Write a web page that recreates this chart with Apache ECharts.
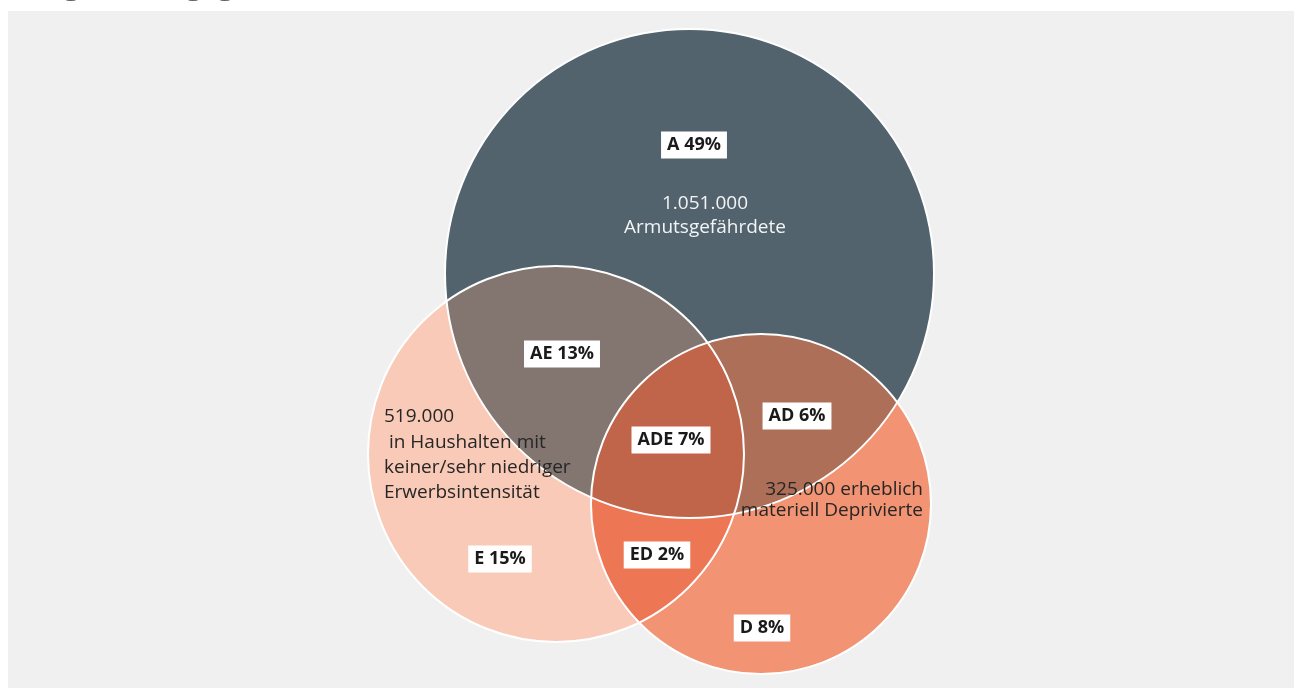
<!DOCTYPE html>
<html>
<head>
<meta charset="utf-8">
<title>Ausgrenzungsgefährdete</title>
<script src="https://cdn.jsdelivr.net/npm/echarts@6/dist/echarts.min.js"></script>
<style>
  html, body { margin: 0; padding: 0; background: #ffffff; }
  #chart { width: 1295px; height: 688px; }
</style>
</head>
<body>
<div id="chart"></div>
<script>
// ---- data ----------------------------------------------------------
// The three groups: A = at risk of poverty, E = (very) low work intensity, D = severe material deprivation
const setKeys = ['A', 'E', 'D'];
const setCounts = ['1.051.000', '519.000', '325.000'];
const setCaptions = [
  ['1.051.000', 'Armutsgefährdete'],
  ['519.000', ' in Haushalten mit', 'keiner/sehr niedriger', 'Erwerbsintensität'],
  ['325.000 erheblich', 'materiell Deprivierte']
];
// Regions of the diagram and their share of all persons (%)
const regionKeys = ['A', 'E', 'D', 'AE', 'AD', 'ED', 'ADE'];
const regionShares = [49, 15, 8, 13, 6, 2, 7];

// ---- layout (diagram frame in px) ----------------------------------
const circleLayout = {
  A: { cx: 689.5, cy: 273.5, r: 244.5 },
  E: { cx: 556, cy: 454, r: 188 },
  D: { cx: 761, cy: 504, r: 170 }
};
const regionColors = {
  A: '#52636d', E: '#f8cab7', D: '#f29373',
  AE: '#837670', AD: '#ad6f58', ED: '#ed7654', ADE: '#c0644a'
};
const regionLabelPos = {
  A: [694, 145], E: [500, 559], D: [762, 628],
  AE: [562, 354], AD: [797, 416], ED: [657, 555], ADE: [671, 440]
};
const captionLayout = {
  A: { x: 705, y: 215.5, align: 'center', lineHeight: 24, color: '#f2f4f5' },
  E: { x: 384, y: 455, align: 'left', lineHeight: 25.3, color: '#262626' },
  D: { x: 923, y: 500.5, align: 'right', lineHeight: 21, color: '#262626' }
};
const FONT = '"Open Sans", "Noto Sans", sans-serif';

// points of the intersection of several circles (convex), sampled along each boundary
function intersectionPolygon(keys) {
  const circles = keys.map(k => circleLayout[k]);
  const pts = [];
  const steps = 720;
  circles.forEach((c, i) => {
    for (let s = 0; s < steps; s++) {
      const t = (s / steps) * Math.PI * 2;
      const p = [c.cx + c.r * Math.cos(t), c.cy + c.r * Math.sin(t)];
      const inside = circles.every((o, j) => j === i ||
        Math.hypot(p[0] - o.cx, p[1] - o.cy) <= o.r + 1e-6);
      if (inside) pts.push(p);
    }
  });
  const mx = pts.reduce((a, p) => a + p[0], 0) / pts.length;
  const my = pts.reduce((a, p) => a + p[1], 0) / pts.length;
  pts.sort((p, q) => Math.atan2(p[1] - my, p[0] - mx) - Math.atan2(q[1] - my, q[0] - mx));
  return pts;
}

const chart = echarts.init(document.getElementById('chart'), null, { renderer: 'canvas' });

chart.setOption({
  animation: false,
  backgroundColor: '#ffffff',
  graphic: [{
    type: 'text',
    left: 8,
    top: -30,
    z: 10,
    style: {
      text: 'Ausgrenzungsgefährdete',
      fill: '#52636d',
      font: 'bold 30px ' + FONT
    }
  }],
  grid: {
    left: 8, top: 11, width: 1286, height: 677,
    show: true, backgroundColor: '#eff0ef', borderWidth: 0
  },
  xAxis: { type: 'value', min: 8, max: 1294, show: false },
  yAxis: { type: 'value', min: 11, max: 688, inverse: true, show: false },
  series: [
    {
      // filled regions
      type: 'custom',
      coordinateSystem: 'cartesian2d',
      data: regionKeys.map((k, i) => [i]),
      z: 2,
      silent: true,
      renderItem: function (params, api) {
        const key = regionKeys[api.value(0)];
        const members = key.split('');
        const fill = regionColors[key];
        if (members.length === 1) {
          const c = circleLayout[key];
          const p = api.coord([c.cx, c.cy]);
          const r = api.size([c.r, c.r])[0];
          return { type: 'circle', shape: { cx: p[0], cy: p[1], r: r }, style: { fill: fill } };
        }
        const pts = intersectionPolygon(members).map(q => api.coord(q));
        return { type: 'polygon', shape: { points: pts }, style: { fill: fill } };
      }
    },
    {
      // white outlines of the three circles
      type: 'custom',
      coordinateSystem: 'cartesian2d',
      data: setKeys.map((k, i) => [i]),
      z: 3,
      silent: true,
      renderItem: function (params, api) {
        const c = circleLayout[setKeys[api.value(0)]];
        const p = api.coord([c.cx, c.cy]);
        const r = api.size([c.r, c.r])[0];
        return {
          type: 'circle',
          shape: { cx: p[0], cy: p[1], r: r },
          style: { fill: 'none', stroke: '#ffffff', lineWidth: 2 }
        };
      }
    },
    {
      // group captions
      type: 'custom',
      coordinateSystem: 'cartesian2d',
      data: setKeys.map((k, i) => [i]),
      z: 4,
      silent: true,
      renderItem: function (params, api) {
        const idx = api.value(0);
        const lay = captionLayout[setKeys[idx]];
        const p = api.coord([lay.x, lay.y]);
        return {
          type: 'text',
          x: p[0], y: p[1],
          style: {
            text: setCaptions[idx].join('\n'),
            fill: lay.color,
            font: '19px ' + FONT,
            textAlign: lay.align,
            align: lay.align,
            textVerticalAlign: 'middle',
            verticalAlign: 'middle',
            lineHeight: lay.lineHeight
          }
        };
      }
    },
    {
      // region share labels in white boxes
      type: 'custom',
      coordinateSystem: 'cartesian2d',
      data: regionKeys.map((k, i) => [i]),
      z: 5,
      silent: true,
      renderItem: function (params, api) {
        const idx = api.value(0);
        const key = regionKeys[idx];
        const p = api.coord(regionLabelPos[key]);
        return {
          type: 'text',
          x: p[0], y: p[1],
          style: {
            text: key + ' ' + regionShares[idx] + '%',
            fill: '#1a1a1a',
            font: 'bold 18px ' + FONT,
            textAlign: 'center',
            align: 'center',
            textVerticalAlign: 'middle',
            verticalAlign: 'middle',
            lineHeight: 20,
            backgroundColor: '#ffffff',
            padding: [4, 6, 3, 6]
          }
        };
      }
    }
  ]
});
</script>
</body>
</html>
